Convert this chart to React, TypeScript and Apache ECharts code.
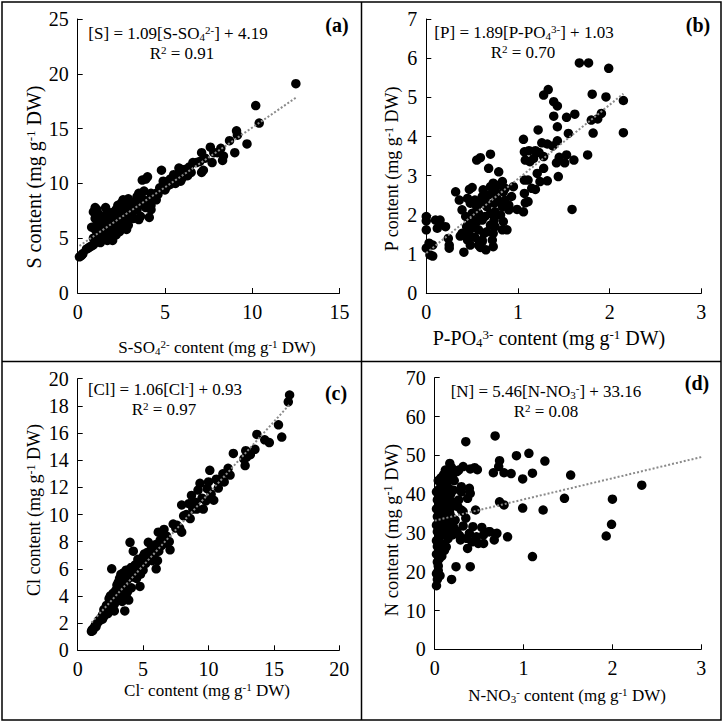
import React, { useEffect, useRef } from "react";
import * as echarts from "echarts";

const SERIF = "'Liberation Serif', 'Times New Roman', serif";

// ---------- data ----------
const sulfurPoints: number[][] = [
  [12.5,19.1],[10.2,17.1],[10.4,15.5],[9.1,14.8],[9.15,14.4],[9.7,13.6],[9.0,12.8],[8.7,13.9],[8.2,13.2],[8.0,12.8],[8.35,12.5],[8.3,12.1],[7.8,12.8],[7.6,13.3],[7.7,11.9],[7.3,12.3],[7.1,12.8],[7.2,11.2],[7.1,11.0],[6.8,11.9],[6.6,11.9],[7.0,12.0],[6.3,10.7],[6.2,11.3],[5.9,11.3],[5.8,11.4],[5.8,10.9],[5.6,10.6],[5.5,10.8],[5.3,10.4],[5.6,10.0],[5.3,9.9],[4.8,11.2],[4.9,10.2],[5.0,9.4],[4.5,9.1],[4.7,9.6],[4.4,8.9],[4.0,10.6],[3.9,10.4],[3.7,10.3],[4.2,9.1],[4.1,8.5],[4.2,7.6],[4.1,6.9],[3.9,7.8],[3.5,9.1],[3.4,8.8],[3.8,9.3],[3.6,8.4],[3.3,8.3],[3.1,8.0],[3.4,7.6],[3.6,7.0],[3.5,6.7],[3.2,6.8],[2.9,8.6],[2.6,8.5],[2.5,8.2],[2.7,8.0],[2.8,7.6],[2.3,8.0],[2.2,7.6],[2.4,7.2],[2.6,7.0],[2.9,6.2],[2.8,5.8],[2.5,6.3],[2.4,5.6],[2.1,7.4],[1.9,7.3],[2.0,6.9],[1.8,6.8],[1.6,7.8],[1.7,7.4],[1.5,7.0],[1.9,6.2],[2.1,5.9],[1.8,5.5],[1.6,5.3],[2.0,4.8],[1.8,5.0],[1.7,4.8],[2.2,5.3],[1.0,7.8],[1.1,7.6],[0.9,7.4],[1.2,7.2],[1.3,6.9],[1.1,6.6],[1.0,6.8],[1.2,6.3],[1.4,6.5],[0.8,6.0],[1.0,5.8],[1.3,5.8],[1.1,5.5],[1.4,5.2],[1.2,5.0],[0.9,5.0],[1.0,4.6],[1.3,4.6],[0.8,4.3],[0.7,4.2],[0.9,4.4],[0.6,4.1],[0.5,4.0],[0.3,3.6],[0.2,3.4],[0.1,3.3],[0.25,3.5],[1.5,6.0],[1.6,5.8],[2.0,6.0],[2.3,6.6],[2.7,6.7],[3.0,7.3],[3.2,7.5],[3.0,7.0],[3.8,8.0],[4.0,8.2],[4.3,8.7],[4.6,9.0],[4.9,9.5],[5.1,9.7],[5.4,10.1],[4.5,8.5],[3.7,8.6],[2.0,6.5],[2.5,7.4],[1.2,5.4],[1.5,5.5],[1.7,6.2],[3.2,7.9],[3.9,8.3],[4.2,8.0],[6.0,10.5],[6.5,11.0],[6.4,11.5],[5.9,10.2]
];

const phosphorusPoints: number[][] = [
  [1.67,5.88],[1.77,5.88],[1.99,5.74],[1.33,5.20],[1.28,5.06],[1.81,5.08],[1.96,5.01],[2.15,4.92],[1.39,4.89],[1.43,4.78],[1.62,4.57],[1.53,4.49],[1.91,4.59],[1.87,4.45],[1.80,4.42],[1.39,4.52],[2.15,4.10],[1.82,4.09],[1.22,4.17],[1.43,4.25],[1.55,4.08],[1.06,3.93],[1.26,3.84],[1.32,3.81],[1.38,3.76],[1.43,3.89],[1.07,3.61],[1.12,3.64],[1.19,3.64],[1.23,3.59],[1.08,3.40],[1.13,3.36],[1.17,3.44],[1.28,3.49],[1.42,3.33],[1.45,3.47],[1.53,3.53],[1.51,3.33],[1.61,3.40],[1.76,3.53],[1.28,3.19],[1.21,3.06],[1.24,2.85],[1.32,2.87],[1.44,2.98],[1.07,2.89],[1.11,2.89],[1.07,2.55],[1.06,2.08],[1.08,2.31],[1.11,2.34],[1.15,2.68],[1.19,2.65],[1.59,2.14],
  [0.70,3.55],[0.55,3.40],[0.59,3.46],[0.68,3.19],[0.79,3.10],[0.32,2.59],[0.36,2.38],[0.47,2.65],[0.50,2.70],[0.39,2.13],[0.43,1.96],[0.44,1.70],[0.46,1.53],[0.39,1.53],[0.37,1.46],[0.41,1.05],[0.48,1.23],[0.57,1.23],[0.53,1.43],[0.59,1.17],[0.65,1.11],[0.72,1.36],[0.73,1.53],[0.75,1.70],[0.83,1.62],[0.88,1.62],[0.84,1.83],[0.61,1.36],[0.63,1.53],[0.57,1.62],[0.53,1.83],[0.50,2.04],[0.57,2.04],[0.64,1.96],[0.70,2.04],[0.75,2.08],[0.74,2.30],[0.66,2.21],[0.59,2.30],[0.53,2.38],[0.48,2.30],[0.45,2.42],[0.61,2.47],[0.68,2.51],[0.75,2.59],[0.79,2.76],[0.73,2.81],[0.83,2.85],[0.84,2.59],[0.86,2.38],[0.90,2.25],[0.93,2.47],[0.95,2.72],[0.90,2.13],[0.99,2.14],[0.79,2.34],[0.83,2.21],[0.55,1.83],[0.70,1.74],[0.66,1.57],[0.50,1.66],[0.45,1.36],[0.55,2.21],[0.62,2.64],[0.70,2.72],[0.77,2.42],[0.64,2.38],[0.81,2.00],[0.74,1.87],[0.61,1.87],[0.73,1.19],[0.61,1.32],[0.48,1.79],[0.86,2.68],
  [0.0,1.96],[0.0,1.85],[0.0,1.62],[0.0,1.15],[0.03,1.28],[0.04,0.98],[0.07,0.95],[0.07,1.23],[0.10,1.87],[0.15,1.87],[0.12,1.66],[0.21,1.70],[0.24,1.40],[0.25,1.23],[0.25,1.15],[0.15,1.77]
];

const chlorinePoints: number[][] = [
  [1.05,1.4],[1.1,1.5],[1.2,1.6],[1.15,1.45],[1.3,1.7],[1.35,1.85],[1.5,2.0],[1.4,1.75],[1.7,2.2],[1.8,2.4],[1.9,2.6],[2.0,2.5],[2.1,2.8],[2.0,3.0],[2.2,3.1],[2.3,2.7],[2.4,3.3],[2.5,3.5],[2.4,3.8],[2.5,4.0],[2.6,3.9],[2.6,6.0],[2.7,3.0],[2.8,2.9],[2.9,3.6],[2.9,4.4],[3.0,4.0],[3.0,4.8],[3.1,4.5],[3.1,5.0],[3.2,5.3],[3.2,3.8],[3.3,5.6],[3.3,4.2],[3.4,5.0],[3.4,3.6],[3.5,5.7],[3.5,4.6],[3.6,5.4],[3.6,2.9],[3.7,5.9],[3.7,4.0],[3.8,5.2],[3.8,4.3],[3.9,5.6],[3.9,3.7],[4.0,7.95],[4.0,5.8],[4.1,4.6],[4.1,6.1],[4.2,5.4],[4.25,7.3],[4.3,6.0],[4.4,5.7],[4.5,6.2],[4.5,5.3],[4.6,5.9],[4.7,6.3],[4.76,4.7],[4.8,5.6],[4.9,6.5],[5.0,6.9],[5.0,5.9],[5.1,7.1],[5.2,6.4],[5.3,7.2],[5.4,7.95],[5.4,6.8],[5.5,7.0],[5.6,7.4],[5.7,6.6],[5.8,7.6],[5.9,7.1],[6.0,6.0],[6.0,7.8],[6.1,6.6],[6.16,8.7],[6.2,7.3],[6.3,8.1],[6.4,7.7],[6.5,8.3],[6.54,8.6],[6.6,8.9],[6.7,7.9],[6.8,8.4],[7.0,8.0],[7.06,7.4],[7.3,9.3],[7.5,9.0],[7.6,9.2],[7.8,9.0],[7.95,8.7],[7.95,10.7],[8.1,9.9],[8.3,10.0],[8.5,10.8],[8.6,9.7],[8.7,11.4],[8.8,10.4],[9.0,10.9],[9.1,10.4],[9.2,11.8],[9.35,12.3],[9.5,11.2],[9.6,10.4],[9.8,11.0],[9.9,11.9],[10.0,12.4],[10.1,13.25],[10.2,11.5],[10.4,11.05],[10.6,12.6],[10.7,12.5],[10.75,11.95],[11.1,13.0],[11.2,12.4],[11.5,13.4],[11.65,12.9],[11.9,14.5],[12.7,14.1],[12.8,13.6],[12.85,14.7],[12.9,14.2],[13.2,14.4],[13.55,14.8],[13.7,15.9],[14.3,15.5],[14.65,15.3],[15.35,16.6],[15.6,15.7],[16.1,18.3],[16.2,18.8],
  [2.7,4.2],[2.8,3.4],[3.1,4.1],[3.3,4.9],[3.5,5.1],[3.8,5.9],[4.2,6.1],[4.4,6.3],[4.6,6.7],[4.8,6.2],[5.2,7.0],[5.6,6.9],[2.2,3.3],[1.6,2.2],[1.9,2.3]
];

const nitrogenPoints: number[][] = [
  [2.33,42.3],[2.0,38.7],[1.99,32.2],[1.93,29.2],[1.53,44.9],[1.46,38.9],[1.24,48.5],[1.22,35.9],[1.10,45.4],[1.10,23.9],[1.06,50.5],[0.99,43.9],[0.99,36.4],[0.92,49.9],[0.86,45.3],[0.82,29.0],[0.78,45.5],[0.78,37.2],[0.73,48.6],[0.73,38.0],[0.72,47.1],[0.66,45.5],[0.69,29.8],[0.70,29.9],[0.67,28.2],[0.61,30.3],[0.68,55.0],[0.35,53.5],
  [0.17,47.9],[0.24,21.3],[0.40,21.3],[0.19,18.0],[0.40,46.5],[0.45,46.8],[0.48,46.3],[0.32,47.1],[0.25,45.8],[0.12,46.2],[0.30,41.9],[0.39,41.5],[0.40,40.2],[0.30,40.6],[0.37,38.9],[0.27,38.5],[0.32,35.5],[0.23,33.3],[0.30,35.9],[0.35,33.8],[0.46,35.9],[0.21,31.6],[0.32,31.8],[0.43,31.6],[0.53,31.4],[0.62,30.3],[0.55,29.5],[0.47,29.0],[0.36,28.6],[0.39,29.9],[0.42,27.7],[0.49,27.3],[0.55,27.3],[0.37,26.0],[0.29,28.2],[0.13,26.4],[0.12,33.3],[0.17,35.0],[0.15,37.6],[0.12,39.8],[0.21,41.0],[0.15,44.1],[0.10,42.3],[0.21,45.3],
  [0.02,16.4],[0.03,18.0],[0.02,19.5],[0.04,20.3],[0.03,22.5],[0.05,23.3],[0.02,24.5],[0.06,25.2],[0.03,26.5],[0.07,27.3],[0.02,28.0],[0.05,29.0],[0.08,29.5],[0.03,30.3],[0.06,31.0],[0.1,31.3],[0.02,32.0],[0.05,32.8],[0.08,33.5],[0.03,34.2],[0.06,35.0],[0.1,35.5],[0.02,36.2],[0.05,36.8],[0.08,37.5],[0.12,38.0],[0.03,38.5],[0.06,39.3],[0.09,40.0],[0.02,40.6],[0.05,41.3],[0.08,42.0],[0.11,42.8],[0.04,43.5],[0.07,44.2],[0.1,45.0],[0.13,45.7],[0.14,43.0],[0.16,41.5],[0.18,40.0],[0.14,38.5],[0.18,36.5],[0.13,35.8],[0.19,34.0],[0.1,27.0],[0.15,28.5],[0.12,30.0],[0.18,30.8],[0.2,29.5],[0.16,32.5],[0.04,21.5],[0.06,19.0],[0.08,24.0],[0.11,25.5],[0.25,30.5],[0.28,29.3],[0.26,36.8],[0.2,38.0],[0.22,43.5],[0.18,44.8],[0.27,46.2],[0.19,46.8]
];

// regression coefficients [slope, intercept] as printed on the chart
const trendCoefs: number[][] = [[1.09, 4.19], [1.89, 1.03], [1.06, 0.93], [5.46, 33.16]];
// x range of each trend line [start, end]
const trendRanges: number[][] = [[0.1, 12.5], [0.0, 2.15], [1.05, 16.2], [0.0, 3.0]];

// axis settings [min, max, interval]
const xAxisScales: number[][] = [[0, 15, 5], [0, 3, 1], [0, 20, 5], [0, 3, 1]];
const yAxisScales: number[][] = [[0, 25, 5], [0, 7, 1], [0, 20, 2], [0, 70, 10]];

const panelLetters = ["(a)", "(b)", "(c)", "(d)"];
const equationTexts = [
  "{n|[S] = 1.09[S-SO}{sub|4}{sup|2-}{n|] + 4.19}",
  "{n|[P] = 1.89[P-PO}{sub|4}{sup|3-}{n|] + 1.03}",
  "{n|[Cl] = 1.06[Cl}{sup|-}{n|] + 0.93}",
  "{n|[N] = 5.46[N-NO}{sub|3}{sup|-}{n|] + 33.16}",
];
const r2Texts = ["0.91", "0.70", "0.97", "0.08"];
const xTitles = [
  "{n|S-SO}{sub|4}{sup|2-}{n| content (mg g}{sup|-1}{n| DW)}",
  "{n|P-PO}{sub|4}{sup|3-}{n| content (mg g}{sup|-1}{n| DW)}",
  "{n|Cl}{sup|-}{n| content (mg g}{sup|-1}{n| DW)}",
  "{n|N-NO}{sub|3}{sup|-}{n| content (mg g}{sup|-1}{n| DW)}",
];
const yTitles = [
  "{n|S content (mg g}{sup|-1}{n| DW)}",
  "{n|P content (mg g}{sup|-1}{n| DW)}",
  "{n|Cl content (mg g}{sup|-1}{n| DW)}",
  "{n|N content (mg g}{sup|-1}{n| DW)}",
];

// ---------- layout ----------
const grids = [
  { left: 77.7, top: 19, width: 261.8, height: 274 },
  { left: 426.3, top: 19, width: 275, height: 274.3 },
  { left: 77.7, top: 378.7, width: 261.6, height: 271.6 },
  { left: 434.7, top: 377.7, width: 266.6, height: 271.6 },
];
const eqPos = [[178, 33], [524, 32], [165, 389], [546, 391]];
const r2Pos = [[182, 53], [523, 52], [164, 409], [546, 411]];
const letterPos = [[337, 25], [698, 25], [336, 393], [697, 383]];
const xTitlePos = [[217, 347], [549, 338], [207, 690], [567, 695]];
const yTitlePos = [[34, 177], [392, 169], [34, 510], [392, 530]];
const xTitleSizes = [17, 20, 17, 17];
const yTitleSizes = [20, 18, 18, 18.5];
const EQ_SIZE = 17;

function makeRich(size: number) {
  const small = Math.round(size * 0.65);
  return {
    n: { fontFamily: SERIF, fontSize: size, lineHeight: size + 1, fill: "#000" },
    sup: { fontFamily: SERIF, fontSize: small, lineHeight: small + 1, verticalAlign: "top", fill: "#000" },
    sub: { fontFamily: SERIF, fontSize: small, lineHeight: small + 1, verticalAlign: "bottom", fill: "#000" },
  };
}

function richText(text: string, x: number, y: number, size: number, rotation = 0) {
  return {
    type: "text",
    x,
    y,
    rotation,
    silent: true,
    style: {
      text,
      rich: makeRich(size),
      align: "center",
      verticalAlign: "middle",
      textAlign: "center",
      textVerticalAlign: "middle",
      fill: "#000",
    },
  };
}

export default function App() {
  const ref = useRef<HTMLDivElement>(null);
  useEffect(() => {
    if (!ref.current) return;
    const chart = echarts.init(ref.current, undefined, { renderer: "svg" });
    const allPoints = [sulfurPoints, phosphorusPoints, chlorinePoints, nitrogenPoints];

    const xAxis = xAxisScales.map((s, i) => ({
      type: "value",
      gridIndex: i,
      min: s[0],
      max: s[1],
      interval: s[2],
      splitLine: { show: false },
      axisLine: { show: true, onZero: false, lineStyle: { color: "#000", width: 1 } },
      axisTick: { show: true, inside: true, length: 5, lineStyle: { color: "#000" } },
      axisLabel: { fontFamily: SERIF, fontSize: 20, color: "#000", margin: 9 },
    }));
    const yAxis = yAxisScales.map((s, i) => ({
      type: "value",
      gridIndex: i,
      min: s[0],
      max: s[1],
      interval: s[2],
      splitLine: { show: false },
      axisLine: { show: true, onZero: false, lineStyle: { color: "#000", width: 1 } },
      axisTick: { show: true, inside: true, length: 5, lineStyle: { color: "#000" } },
      axisLabel: { fontFamily: SERIF, fontSize: 20, color: "#000", margin: 9 },
    }));

    const series: any[] = [];
    allPoints.forEach((pts, i) => {
      series.push({
        type: "scatter",
        xAxisIndex: i,
        yAxisIndex: i,
        data: pts,
        symbol: "circle",
        symbolSize: 9.5,
        itemStyle: { color: "#000", opacity: 1 },
        silent: true,
        z: 2,
      });
      const [m, b] = trendCoefs[i];
      const [x0, x1] = trendRanges[i];
      series.push({
        type: "line",
        xAxisIndex: i,
        yAxisIndex: i,
        data: [[x0, m * x0 + b], [x1, m * x1 + b]],
        symbol: "none",
        silent: true,
        lineStyle: { color: "#8a8a8a", width: 2, type: [2, 2] },
        z: 3,
      });
    });

    const graphic: any[] = [
      { type: "rect", silent: true, shape: { x: 2, y: 2, width: 719, height: 718 }, style: { fill: "none", stroke: "#000", lineWidth: 1.5 } },
      { type: "line", silent: true, shape: { x1: 361.5, y1: 2, x2: 361.5, y2: 720 }, style: { stroke: "#000", lineWidth: 1.5 } },
      { type: "line", silent: true, shape: { x1: 2, y1: 361.5, x2: 721, y2: 361.5 }, style: { stroke: "#000", lineWidth: 1.5 } },
    ];
    for (let i = 0; i < 4; i++) {
      graphic.push(richText(equationTexts[i], eqPos[i][0], eqPos[i][1], EQ_SIZE));
      graphic.push(richText("{n|R}{sup|2}{n| = " + r2Texts[i] + "}", r2Pos[i][0], r2Pos[i][1], EQ_SIZE));
      graphic.push(richText(xTitles[i], xTitlePos[i][0], xTitlePos[i][1], xTitleSizes[i]));
      graphic.push(richText(yTitles[i], yTitlePos[i][0], yTitlePos[i][1], yTitleSizes[i], Math.PI / 2));
      graphic.push({
        type: "text",
        x: letterPos[i][0],
        y: letterPos[i][1],
        silent: true,
        style: {
          text: panelLetters[i],
          fontFamily: SERIF,
          fontSize: 20,
          fontWeight: "bold",
          fill: "#000",
          align: "center",
          verticalAlign: "middle",
        },
      });
    }

    chart.setOption({
      animation: false,
      backgroundColor: "#fff",
      grid: grids.map((g) => ({ ...g, containLabel: false })),
      xAxis,
      yAxis,
      series,
      graphic,
    });
    return () => chart.dispose();
  }, []);

  return (
    <div
      ref={ref}
      style={{ position: "fixed", left: 0, top: 0, width: 725, height: 725, background: "#fff" }}
    />
  );
}
